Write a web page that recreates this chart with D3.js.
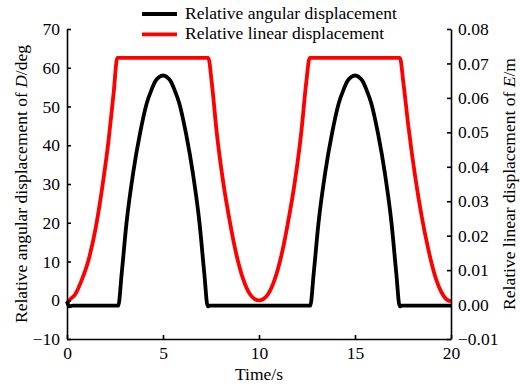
<!DOCTYPE html>
<html>
<head>
<meta charset="utf-8">
<script src="https://cdn.jsdelivr.net/npm/d3@7"></script>
<style>
    body { margin: 0; background: #fff; }
    svg text { font-family: "Liberation Serif", "Times New Roman", serif; fill: #000; }
</style>
</head>
<body>
<div id="chart"></div>
<script>
// Relative angular displacement (deg), left axis
const angTime = [0, 0.12, 0.3, 2.67, 2.85, 3.1, 3.45, 3.8, 4.15, 4.4, 4.6, 4.8, 5.0, 5.2, 5.4, 5.6, 5.85, 6.2, 6.55, 6.9, 7.15, 7.33, 7.42,
    12.67, 12.85, 13.1, 13.45, 13.8, 14.15, 14.4, 14.6, 14.8, 15.0, 15.2, 15.4, 15.6, 15.85, 16.2, 16.55, 16.9, 17.15, 17.33, 17.42, 20];
const angValues = [-0.3, -1.6, -1.4, -1.4, 7, 20, 33, 43, 50.8, 54.3, 56.5, 57.6, 58, 57.6, 56.5, 54.3, 50.8, 43, 33, 20, 7, -1.6, -1.4,
    -1.4, 7, 20, 33, 43, 50.8, 54.3, 56.5, 57.6, 58, 57.6, 56.5, 54.3, 50.8, 43, 33, 20, 7, -1.6, -1.4, -1.4];

// Relative linear displacement (m), right axis
const linTime = [0, 0.05, 0.12, 0.43, 0.78, 1.13, 1.48, 1.82, 2.17, 2.43, 2.62,
    7.36, 7.54, 7.8, 8.14, 8.49, 8.84, 9.18, 9.53, 9.78, 10.0,
    10.22, 10.47, 10.82, 11.16, 11.51, 11.86, 12.2, 12.46, 12.64,
    17.34, 17.52, 17.78, 18.13, 18.47, 18.82, 19.17, 19.51, 19.75, 20];
const linValues = [0.0002, 0.0008, 0.0013, 0.003, 0.0073, 0.0131, 0.0218, 0.0334, 0.0479, 0.0615, 0.0716,
    0.0716, 0.0644, 0.0499, 0.0354, 0.0238, 0.0141, 0.0073, 0.003, 0.0016, 0.0012,
    0.0016, 0.003, 0.0073, 0.0141, 0.0238, 0.0354, 0.0499, 0.0644, 0.0716,
    0.0716, 0.0644, 0.0518, 0.0373, 0.0257, 0.016, 0.0083, 0.0035, 0.0016, 0.0009];

const xTicks = [0, 5, 10, 15, 20];
const leftTicks = [-10, 0, 10, 20, 30, 40, 50, 60, 70];
const rightTicks = [-0.01, 0, 0.01, 0.02, 0.03, 0.04, 0.05, 0.06, 0.07, 0.08];

const legendNames = ["Relative angular displacement", "Relative linear displacement"];
const colors = ["#000000", "#ff0000"];

const fontFamily = '"Liberation Serif", "Times New Roman", serif';
const fontSize = "17.5px";

// Layout
const W = 521, H = 389;
const margin = {top: 29, right: 70, bottom: 50, left: 67};
const width = W - margin.left - margin.right;
const height = H - margin.top - margin.bottom;

const svg = d3.select("#chart").append("svg")
    .attr("width", W)
    .attr("height", H)
    .style("font-family", fontFamily);

const g = svg.append("g")
    .attr("transform", `translate(${margin.left}, ${margin.top})`);

// Scales
const x = d3.scaleLinear().domain([0, 20]).range([0, width]);
const yL = d3.scaleLinear().domain([-10, 70]).range([height, 0]);
const yR = d3.scaleLinear().domain([-0.01, 0.08]).range([height, 0]);

// Lines
const angData = angTime.map((t, i) => ({t: t, v: angValues[i]}));
const linData = linTime.map((t, i) => ({t: t, v: linValues[i]}));

g.append("path")
    .datum(linData)
    .attr("fill", "none")
    .attr("stroke", colors[1])
    .attr("stroke-width", 3.8)
    .attr("stroke-linejoin", "round")
    .attr("d", d3.line().curve(d3.curveMonotoneX).x(d => x(d.t)).y(d => yR(d.v)));

g.append("path")
    .datum(angData)
    .attr("fill", "none")
    .attr("stroke", colors[0])
    .attr("stroke-width", 3.8)
    .attr("stroke-linejoin", "round")
    .attr("d", d3.line().curve(d3.curveMonotoneX).x(d => x(d.t)).y(d => yL(d.v)));

// Axes (ticks point inward)
const xAxis = d3.axisBottom(x).tickValues(xTicks).tickSizeInner(-4).tickSizeOuter(0).tickPadding(8);
const leftAxis = d3.axisLeft(yL).tickValues(leftTicks).tickSizeInner(-4).tickSizeOuter(0).tickPadding(7);
const rightAxis = d3.axisRight(yR).tickValues(rightTicks).tickSizeInner(-4).tickSizeOuter(0).tickPadding(7)
    .tickFormat(d3.format(".2f"));

function styleAxis(sel) {
    sel.attr("font-family", null).attr("font-size", null);
    sel.selectAll("path, line").attr("stroke", "#000").attr("stroke-width", 1.6);
    sel.selectAll("text")
        .style("font-family", fontFamily)
        .style("font-size", fontSize)
        .attr("fill", "#000");
}

g.append("g").attr("transform", `translate(0, ${height})`).call(xAxis).call(styleAxis);
g.append("g").call(leftAxis).call(styleAxis);
g.append("g").attr("transform", `translate(${width}, 0)`).call(rightAxis).call(styleAxis);

// Axis titles
svg.append("text")
    .attr("x", margin.left + width / 2)
    .attr("y", 380)
    .attr("text-anchor", "middle")
    .style("font-family", fontFamily)
    .style("font-size", fontSize)
    .text("Time/s");

const leftTitle = svg.append("text")
    .attr("transform", `translate(26.5, ${margin.top + height / 2}) rotate(-90)`)
    .attr("text-anchor", "middle")
    .style("font-family", fontFamily)
    .style("font-size", fontSize);
leftTitle.append("tspan").text("Relative angular displacement of ");
leftTitle.append("tspan").style("font-style", "italic").text("D");
leftTitle.append("tspan").text("/deg");

const rightTitle = svg.append("text")
    .attr("transform", `translate(514.5, ${margin.top + height / 2}) rotate(-90)`)
    .attr("text-anchor", "middle")
    .style("font-family", fontFamily)
    .style("font-size", fontSize);
rightTitle.append("tspan").text("Relative linear displacement of ");
rightTitle.append("tspan").style("font-style", "italic").text("E");
rightTitle.append("tspan").text("/m");

// Legend
const legend = svg.append("g").attr("transform", "translate(142, 14)");
legendNames.forEach((name, i) => {
    const row = legend.append("g").attr("transform", `translate(0, ${i * 20.3})`);
    row.append("line")
        .attr("x1", 0).attr("x2", 35)
        .attr("stroke", colors[i])
        .attr("stroke-width", 3.8);
    row.append("text")
        .attr("x", 43)
        .attr("y", 5)
        .style("font-family", fontFamily)
        .style("font-size", fontSize)
        .text(name);
});
</script>
</body>
</html>
